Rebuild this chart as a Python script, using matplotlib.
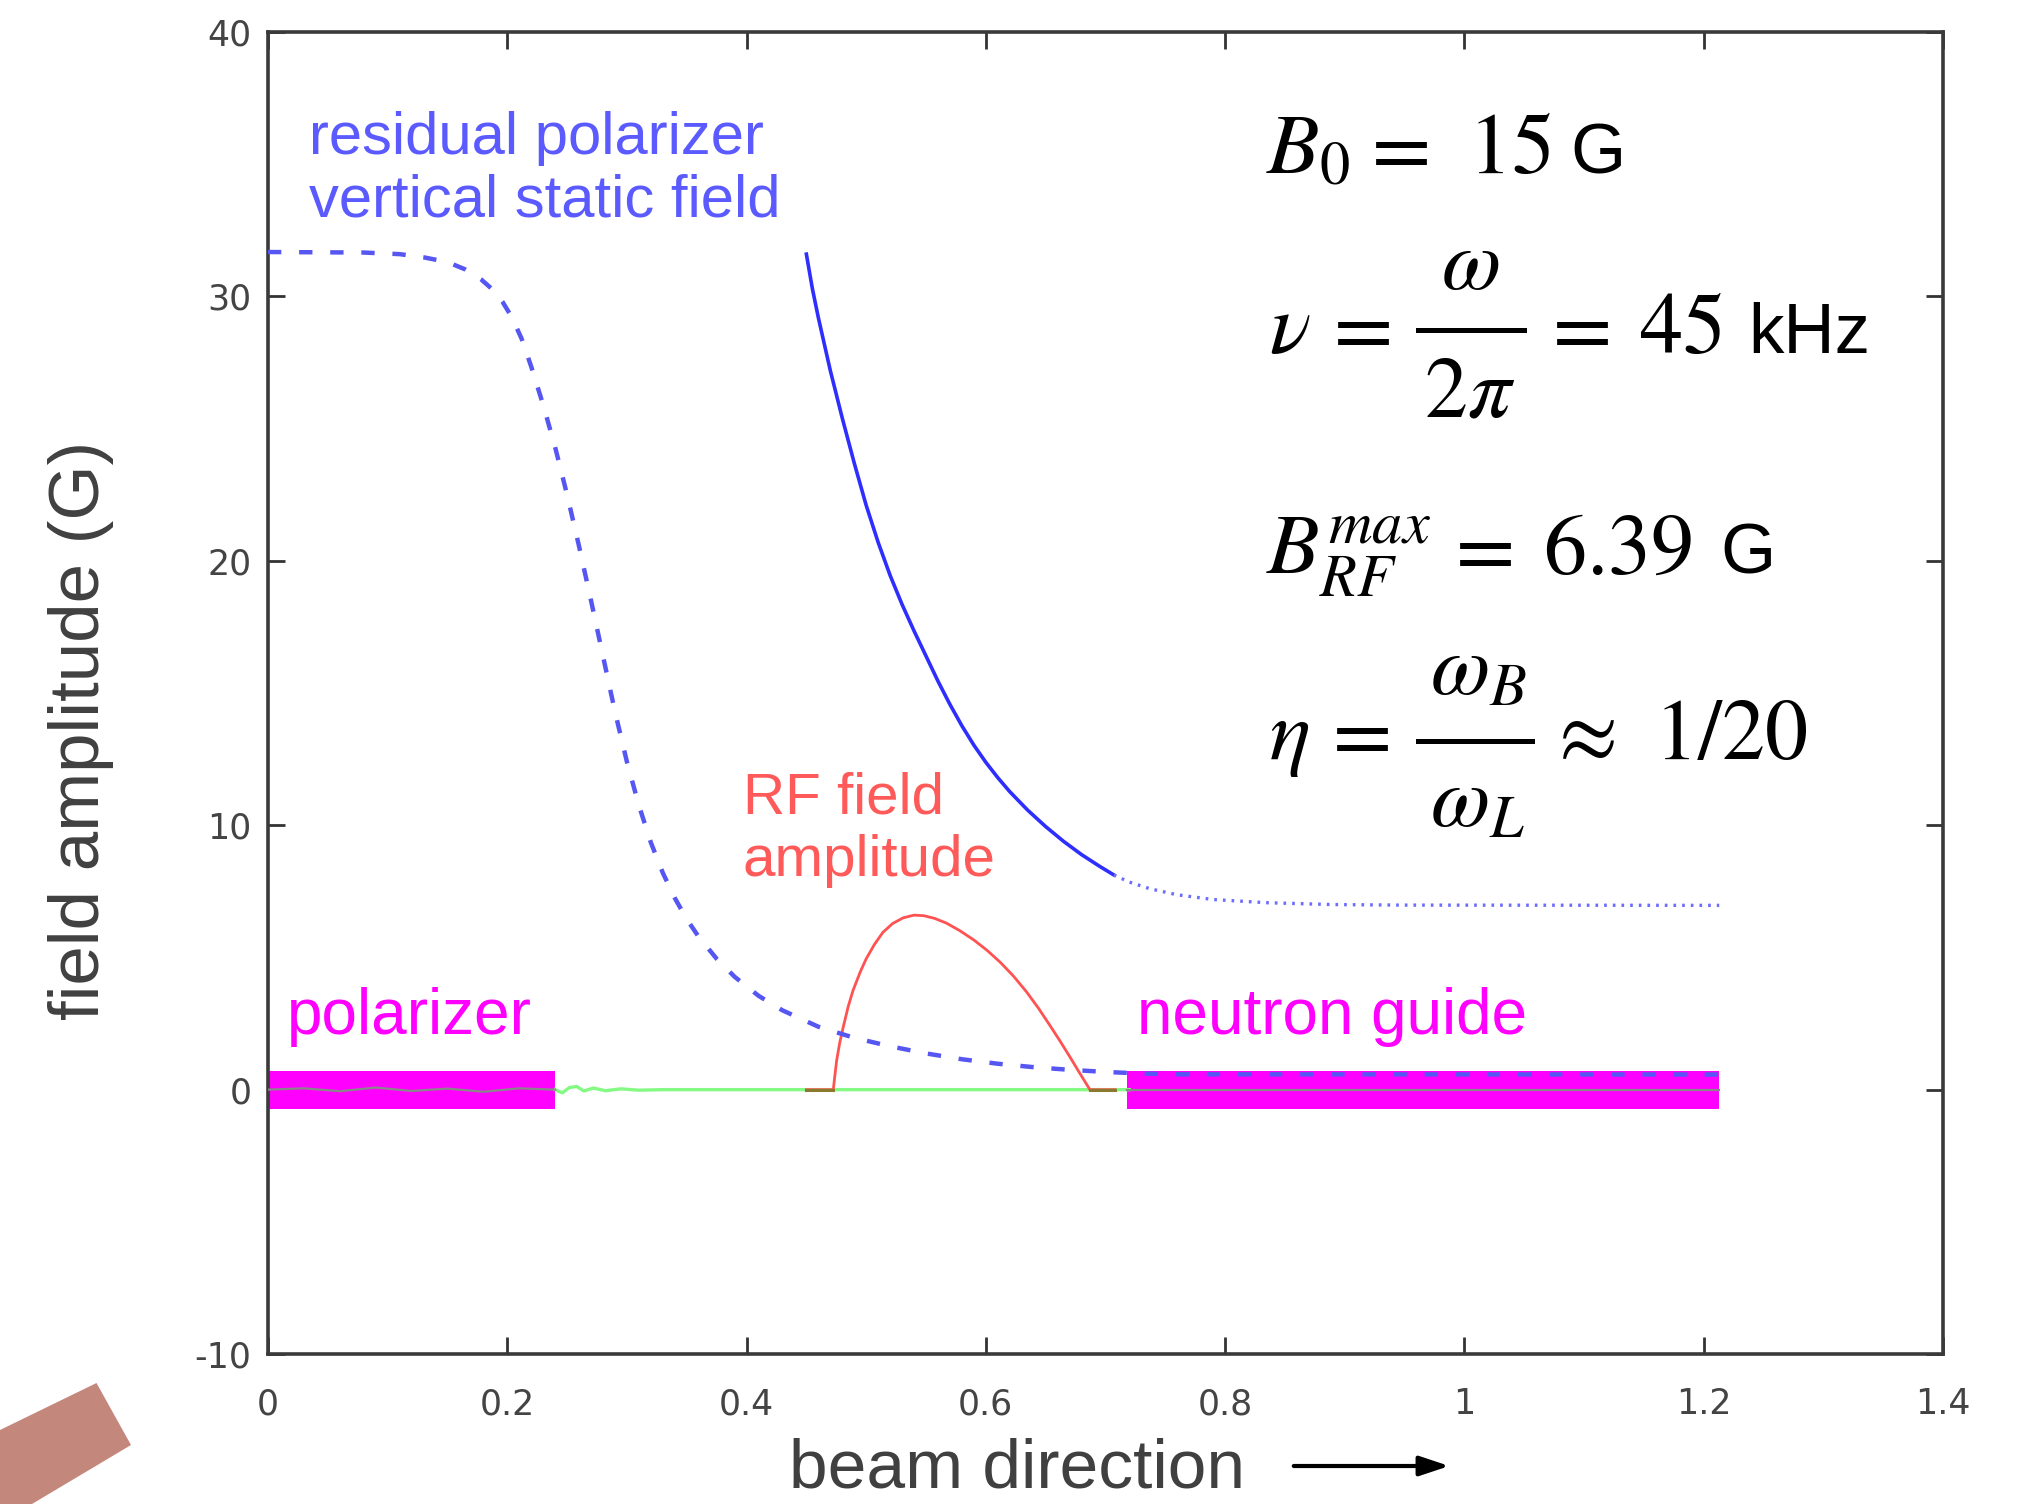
import numpy as np
import matplotlib
matplotlib.use("Agg")
import matplotlib.pyplot as plt
from matplotlib.patches import Polygon, FancyArrowPatch
from matplotlib.lines import Line2D

plt.rcParams['font.family'] = ['Liberation Sans', 'DejaVu Sans']
plt.rcParams['mathtext.fontset'] = 'stix'
plt.rcParams['axes.unicode_minus'] = False

# residual polarizer field (dashed)
pol_x = [0.000, 0.080, 0.110, 0.130, 0.150, 0.165, 0.178, 0.188, 0.196, 0.204, 0.212,
         0.220, 0.230, 0.240, 0.250, 0.260, 0.270, 0.280, 0.290, 0.300, 0.310, 0.320,
         0.330, 0.340, 0.350, 0.360, 0.375, 0.390, 0.410, 0.430, 0.460, 0.490, 0.520,
         0.550, 0.580, 0.610, 0.640, 0.670, 0.700, 0.730, 0.760, 1.213]
pol_y = [31.68, 31.66, 31.60, 31.48, 31.30, 31.02, 30.65, 30.25, 29.80, 29.20, 28.40,
         27.35, 25.90, 24.30, 22.50, 20.55, 18.50, 16.40, 14.30, 12.40, 10.75, 9.35,
         8.20, 7.25, 6.45, 5.78, 4.95, 4.27, 3.55, 3.00, 2.38, 1.96, 1.64,
         1.37, 1.15, 0.98, 0.85, 0.75, 0.67, 0.61, 0.58, 0.57]

# static field after polarizer (solid, then dotted)
bs_x = [0.450, 0.455, 0.460, 0.465, 0.470, 0.475, 0.480, 0.490, 0.500, 0.510, 0.520,
        0.530, 0.540, 0.550, 0.560, 0.570, 0.580, 0.590, 0.600, 0.610, 0.620, 0.635,
        0.650, 0.665, 0.680, 0.695, 0.707]
bs_y = [31.60, 30.30, 29.20, 28.20, 27.20, 26.30, 25.40, 23.70, 22.10, 20.70, 19.45,
        18.35, 17.35, 16.40, 15.45, 14.57, 13.76, 13.03, 12.38, 11.80, 11.27, 10.57,
        9.95, 9.39, 8.89, 8.45, 8.12]
bd_x = [0.707, 0.720, 0.737, 0.760, 0.790, 0.835, 0.890, 0.946, 1.213]
bd_y = [8.12, 7.85, 7.60, 7.37, 7.19, 7.07, 7.00, 6.98, 6.97]

# RF field amplitude
rf_x = [0.450, 0.4725, 0.474, 0.4753, 0.478, 0.481, 0.485, 0.489, 0.495, 0.500, 0.507,
        0.514, 0.522, 0.531, 0.540, 0.548, 0.557, 0.567, 0.578, 0.590, 0.601, 0.612,
        0.623, 0.634, 0.644, 0.654, 0.662, 0.670, 0.678, 0.687, 0.708]
rf_y = [0.0, 0.0, 0.60, 1.10, 1.80, 2.40, 3.15, 3.75, 4.45, 4.95, 5.50,
        5.95, 6.28, 6.50, 6.60, 6.58, 6.48, 6.30, 6.02, 5.66, 5.27, 4.82,
        4.30, 3.70, 3.08, 2.40, 1.84, 1.26, 0.66, 0.0, 0.0]

# measured field near zero
gr_x = [0.240, 0.246, 0.252, 0.258, 0.264, 0.272, 0.282, 0.295, 0.310, 0.330, 0.720]
gr_y = [0.0, -0.12, 0.08, 0.12, -0.05, 0.06, -0.04, 0.03, -0.02, 0.0, 0.0]
gy_x = [0.0, 0.03, 0.06, 0.09, 0.12, 0.15, 0.18, 0.21, 0.24]
gy_y = [0.0, 0.05, -0.06, 0.08, -0.05, 0.04, -0.08, 0.05, 0.0]

# magnetic elements (start, end)
polarizer = (0.0, 0.240)
guide = (0.718, 1.213)
bar_half = 0.72

xticks = [0, 0.2, 0.4, 0.6, 0.8, 1, 1.2, 1.4]
xtick_labels = ['0', '0.2', '0.4', '0.6', '0.8', '1', '1.2', '1.4']
yticks = [-10, 0, 10, 20, 30, 40]

W, H = 2018, 1504


def fpx(x, y):
    # pixel position (from top-left) -> figure fraction
    return x / W, 1 - y / H


fig = plt.figure(figsize=(20.18, 15.04), dpi=100)
ax = fig.add_axes([0.1328, 0.0997, 0.8300, 0.8790])

for a, b in (polarizer, guide):
    ax.fill_between([a, b], -bar_half, bar_half, color='#ff00ff', lw=0, zorder=2)

ax.plot(gr_x, gr_y, color='#84fa84', lw=2.4, zorder=3)
ax.plot(gy_x, gy_y, color='#888888', lw=1.6, zorder=4)
ax.plot([guide[0], guide[1]], [0, 0], color='#888888', lw=1.6, zorder=4)

ax.plot(rf_x, rf_y, color='#ff5252', lw=2.0, zorder=5)
ax.plot([0.450, 0.4725], [0, 0], color='#8a7a30', lw=2.2, zorder=5)
ax.plot([0.687, 0.708], [0, 0], color='#8a7a30', lw=2.2, zorder=5)

ax.plot(pol_x, pol_y, color='#5656f2', lw=3.2, dashes=(3.0, 4.0), zorder=6)
ax.plot(bs_x, bs_y, color='#2e2eff', lw=2.6, zorder=6)
ax.plot(bd_x, bd_y, color='#6c6cff', lw=2.4, dashes=(0.8, 1.8), zorder=6)

ax.set_xlim(0, 1.4)
ax.set_ylim(-10, 40)
ax.set_xticks(xticks)
ax.set_xticklabels(xtick_labels)
ax.set_yticks(yticks)
ax.tick_params(direction='in', length=12, width=2, color='#333333',
               top=True, right=True, labelsize=25, labelcolor='#444444')
ax.tick_params(axis='x', pad=24)
ax.tick_params(axis='y', pad=12)
for lab in ax.get_xticklabels() + ax.get_yticklabels():
    lab.set_family('DejaVu Sans')
for s in ax.spines.values():
    s.set_linewidth(2.6)
    s.set_color('#3a3a3a')

# curve labels
ax.text(0.034, 35.4, 'residual polarizer', color='#5a5aff', fontsize=43, va='baseline')
ax.text(0.034, 33.04, 'vertical static field', color='#5a5aff', fontsize=43, va='baseline')
ax.text(0.397, 10.46, 'RF field', color='#ff5a5a', fontsize=42, va='baseline')
ax.text(0.397, 8.09, 'amplitude', color='#ff5a5a', fontsize=42, va='baseline')
ax.text(0.0156, 2.1, 'polarizer', color='#ff00ff', fontsize=46, va='baseline')
ax.text(0.726, 2.1, 'neutron guide', color='#ff00ff', fontsize=46, va='baseline')

# parameter formulas, set piece by piece to keep the wide spacing
# (a lone relation sign carries its own leading space, hence the -17 px)
MS, US = 62, 51
pieces = [
    (r'$B_0$', 1266, 173, 'left'), (r'$=$', 1359, 173, 'left'), (r'$15$', 1468, 173, 'left'),
    (r'$\nu$', 1269, 353, 'left'), (r'$=$', 1321, 353, 'left'),
    (r'$\omega$', 1470, 289, 'center'), (r'$2\pi$', 1470, 417, 'center'),
    (r'$=$', 1540, 353, 'left'), (r'$45$', 1639, 353, 'left'),
    (r'$B_{RF}^{max}$', 1266, 574, 'left'), (r'$=$', 1443, 574, 'left'),
    (r'$6.39$', 1543, 574, 'left'),
    (r'$\eta$', 1269, 759, 'left'), (r'$=$', 1320, 759, 'left'),
    (r'$\omega_B$', 1430, 695, 'left'), (r'$\omega_L$', 1430, 827, 'left'),
    (r'$\approx$', 1546, 759, 'left'), (r'$1/20$', 1654, 759, 'left'),
]
for s, x, y, ha in pieces:
    fig.text(*fpx(x, y), s, fontsize=MS, ha=ha, va='baseline')
for s, x, y in [('G', 1570, 173), ('kHz', 1748, 353), ('G', 1720, 574)]:
    fig.text(*fpx(x, y), s, fontsize=US, ha='left', va='baseline')
for x0, x1, y in [(1418, 1524, 330), (1418, 1532, 741)]:
    (fx0, fy), (fx1, _) = fpx(x0, y), fpx(x1, y)
    fig.add_artist(Line2D([fx0, fx1], [fy, fy], transform=fig.transFigure,
                          lw=3.6, color='black'))

fig.text(0.040, 0.5146, 'field amplitude (G)', rotation=90, fontsize=51,
         color='#404040', ha='center', va='center')
fig.text(1017 / W, 2 / H, 'beam direction', fontsize=50, color='#404040',
         ha='center', va='bottom')
fig.add_artist(FancyArrowPatch(
    fpx(1291, 1466), fpx(1452, 1466), transform=fig.transFigure,
    arrowstyle='-|>,head_length=0.9,head_width=0.3',
    mutation_scale=20, lw=3, color='black'))

# slide decoration in the corner
corner = np.array([fpx(*p) for p in [(0, 1430), (96.5, 1383), (131, 1445), (32, 1504), (0, 1504)]])
fig.add_artist(Polygon(corner, closed=True, transform=fig.transFigure,
                       facecolor='#c4877b', edgecolor='none'))

fig.savefig('out.png', dpi=100, facecolor='white')
